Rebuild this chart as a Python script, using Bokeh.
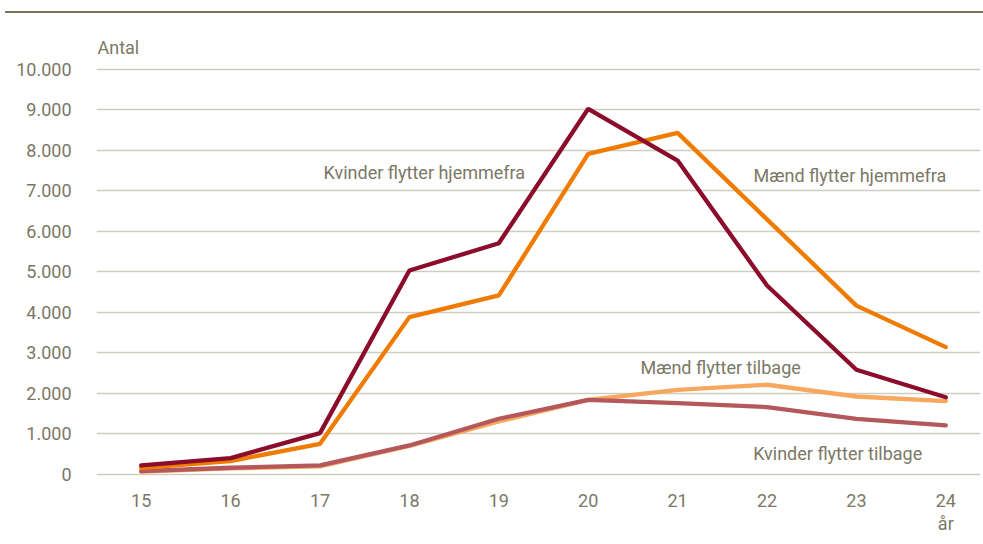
from bokeh.plotting import figure
from bokeh.models import Range1d, FixedTicker, LinearAxis, Label, Div
from bokeh.layouts import column
from bokeh.embed import file_html
from bokeh.resources import INLINE

# ---- data ----
ages = [15, 16, 17, 18, 19, 20, 21, 22, 23, 24]
kvinder_hjemmefra = [222, 403, 1021, 5035, 5710, 9030, 7750, 4665, 2585, 1905]
maend_hjemmefra = [165, 330, 757, 3885, 4420, 7915, 8435, 6300, 4170, 3145]
maend_tilbage = [70, 150, 200, 705, 1310, 1840, 2090, 2215, 1925, 1810]
kvinder_tilbage = [82, 165, 222, 716, 1375, 1840, 1760, 1665, 1375, 1210]

y_ticks = [0, 1000, 2000, 3000, 4000, 5000, 6000, 7000, 8000, 9000, 10000]
y_tick_labels = ["0", "1.000", "2.000", "3.000", "4.000", "5.000",
                 "6.000", "7.000", "8.000", "9.000", "10.000"]

series_labels = ["Kvinder flytter hjemmefra", "Mænd flytter hjemmefra",
                 "Mænd flytter tilbage", "Kvinder flytter tilbage"]
label_x = [17.04, 21.85, 20.585, 21.845]
label_y = [7460, 7385, 2650, 510]

FONT = "Roboto"
FS = "18px"
TXT = "#7b7866"
GRID = "#cfcdc3"
C_KH = "#8b0d2b"
C_MH = "#ef7b00"
C_KT = "#b5585b"
C_MT = "#f8a75f"

W = 980

rule = Div(text="", width=W, height=8,
           styles={"border-bottom": "2px solid #77735f"})

p = figure(width=W, height=518, output_backend="svg", toolbar_location=None,
           x_range=Range1d(14.5, 14.5 + (W - 96) / 89.4), y_range=Range1d(-100, 11210),
           min_border_left=96, min_border_right=0, min_border_top=2,
           min_border_bottom=10)
p.outline_line_color = None
p.background_fill_color = "white"
p.border_fill_color = "white"

# y axis
p.yaxis.ticker = FixedTicker(ticks=y_ticks)
p.yaxis.major_label_overrides = {t: s for t, s in zip(y_ticks, y_tick_labels)}
p.yaxis.axis_line_color = None
p.yaxis.major_tick_line_color = None
p.yaxis.minor_tick_line_color = None
p.yaxis.major_label_standoff = 19
p.yaxis.major_label_text_font = FONT
p.yaxis.major_label_text_font_size = FS
p.yaxis.major_label_text_color = TXT

# x axis
p.xaxis.ticker = FixedTicker(ticks=ages)
p.xaxis.axis_line_color = None
p.xaxis.major_tick_line_color = None
p.xaxis.minor_tick_line_color = None
p.xaxis.major_label_standoff = 9
p.xaxis.major_label_text_font = FONT
p.xaxis.major_label_text_font_size = FS
p.xaxis.major_label_text_color = TXT

# unit label under last age
unit_axis = LinearAxis(ticker=FixedTicker(ticks=[ages[-1]]),
                       major_label_overrides={ages[-1]: "år"})
unit_axis.axis_line_color = None
unit_axis.major_tick_line_color = None
unit_axis.minor_tick_line_color = None
unit_axis.major_label_standoff = -3
unit_axis.major_label_text_font = FONT
unit_axis.major_label_text_font_size = FS
unit_axis.major_label_text_color = TXT
p.add_layout(unit_axis, "below")

p.xgrid.visible = False
p.ygrid.ticker = FixedTicker(ticks=y_ticks)
p.ygrid.grid_line_color = GRID
p.ygrid.grid_line_width = 1.5

lw = 4.3
p.line(ages, maend_tilbage, line_color=C_MT, line_width=lw, line_cap="round")
p.line(ages, kvinder_tilbage, line_color=C_KT, line_width=lw, line_cap="round")
p.line(ages, maend_hjemmefra, line_color=C_MH, line_width=lw, line_cap="round")
p.line(ages, kvinder_hjemmefra, line_color=C_KH, line_width=lw, line_cap="round")

for t, x, y in zip(series_labels, label_x, label_y):
    p.add_layout(Label(x=x, y=y, text=t, text_font=FONT, text_font_size=FS,
                       text_color=TXT, text_baseline="middle", text_align="left"))

p.add_layout(Label(x=14.5, y=10540, text="Antal", text_font=FONT,
                   text_font_size=FS, text_color=TXT,
                   text_baseline="middle", text_align="left", x_offset=1))

layout = column(rule, p)
open("out.html", "w").write(file_html(layout, INLINE))
